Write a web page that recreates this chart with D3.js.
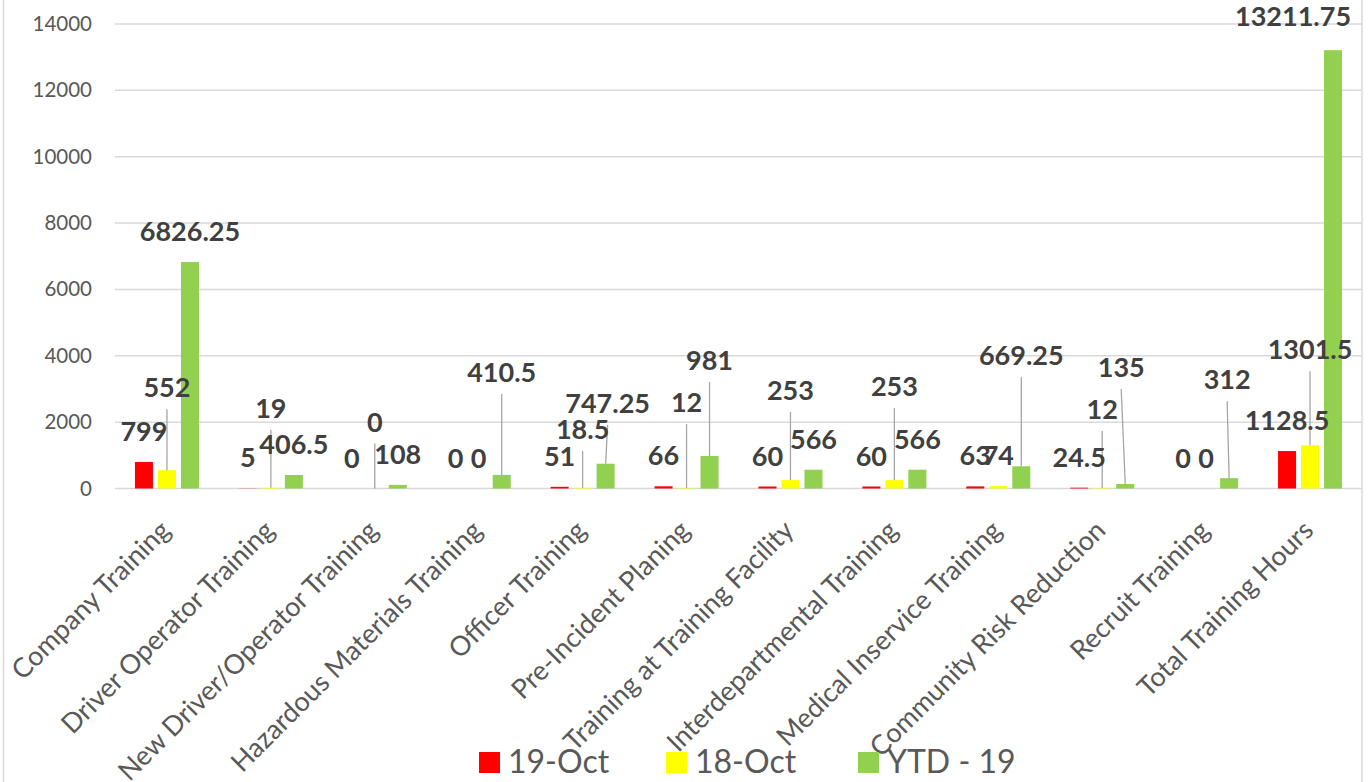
<!DOCTYPE html>
<html>
<head>
<meta charset="utf-8">
<script src="https://cdn.jsdelivr.net/npm/d3@7"></script>
<style>
  body { margin: 0; background: #fff; }
  svg { display: block; font-family: Lato, "Open Sans", sans-serif; }
</style>
</head>
<body>
<div id="chart"></div>
<script>
//wrap everything in a self-executing anonymous function
(function(){

  //chart data
  var categories = [
    "Company Training", "Driver Operator Training", "New Driver/Operator Training",
    "Hazardous Materials Training", "Officer Training", "Pre-Incident Planing",
    "Training at Training Facility", "Interdepartmental Training",
    "Medical Inservice Training", "Community Risk Reduction",
    "Recruit Training", "Total Training Hours"
  ];
  var seriesNames = ["19-Oct", "18-Oct", "YTD - 19"];
  var oct19 = [799, 5, 0, 0, 51, 66, 60, 60, 63, 24.5, 0, 1128.5];
  var oct18 = [552, 19, 0, 0, 18.5, 12, 253, 253, 74, 12, 0, 1301.5];
  var ytd19 = [6826.25, 406.5, 108, 410.5, 747.25, 981, 566, 566, 669.25, 135, 312, 13211.75];
  var yTicks = [0, 2000, 4000, 6000, 8000, 10000, 12000, 14000];

  var seriesValues = [oct19, oct18, ytd19];
  var seriesColors = ["#ff0000", "#ffff00", "#92d050"];

  //data labels that were dragged away from the bar end in the original (pixels)
  //one [dx, dy] per category, per series; anything moved gets a leader line
  var labelMoves = [
    [[0,0],[0,0],[0,0],[0,0],[0,0],[0,0],[0,0],[0,0],[0,0],[0,0],[0,0],[0,0]],
    [[0,-52],[0,-49],[0,-36],[0,0],[0,-28],[0,-55],[0,-59],[0,-63],[0,0],[0,-48],[0,0],[0,-65]],
    [[0,0],[0,0],[0,0],[0,-72],[2,-30],[0,-65],[0,0],[0,0],[0,-80],[-4,-86],[-2,-68],[-40,-3]]
  ];

  window.onload = setChart();

  function setChart(){
    var width = 1368,
        height = 782,
        plotLeft = 115,
        plotRight = 1362,
        plotTop = 24,
        plotBottom = 488.5;

    var svg = d3.select("#chart")
      .append("svg")
      .attr("width", width)
      .attr("height", height);

    //chart border
    svg.append("rect")
      .attr("x", 3.5)
      .attr("y", -4)
      .attr("width", plotRight - 3.5)
      .attr("height", height + 8)
      .attr("fill", "none")
      .attr("stroke", "#d9d9d9")
      .attr("stroke-width", 1.5);

    //scales
    var x0 = d3.scaleBand()
      .domain(categories)
      .range([plotLeft, plotRight])
      .paddingInner(0.384)
      .paddingOuter(0.192);

    var x1 = d3.scaleBand()
      .domain(seriesNames)
      .range([0, x0.bandwidth()])
      .paddingInner(5 / 23);

    var y = d3.scaleLinear()
      .domain([0, 14000])
      .range([plotBottom, plotTop]);

    //gridlines
    svg.append("g")
      .attr("class", "grid")
      .selectAll("line")
      .data(yTicks)
      .enter()
      .append("line")
      .attr("x1", plotLeft)
      .attr("x2", plotRight)
      .attr("y1", function(d){ return y(d); })
      .attr("y2", function(d){ return y(d); })
      .attr("stroke", "#d9d9d9")
      .attr("stroke-width", 1.5);

    //y axis labels, no line
    var yAxis = d3.axisLeft(y)
      .tickValues(yTicks)
      .tickSize(0)
      .tickPadding(0)
      .tickFormat(d3.format("d"));

    var yAxisG = svg.append("g")
      .attr("transform", "translate(92,0)")
      .call(yAxis);
    yAxisG.select(".domain").remove();
    yAxisG.selectAll("text")
      .attr("fill", "#595959")
      .style("font-size", "20.5px")
      .style("font-family", "Lato, sans-serif");

    //bars
    var groups = svg.selectAll(".series")
      .data(seriesNames)
      .enter()
      .append("g")
      .attr("class", "series")
      .attr("fill", function(d, i){ return seriesColors[i]; });

    groups.selectAll("rect")
      .data(function(d, i){
        return seriesValues[i].map(function(v, j){
          return {series: d, cat: categories[j], value: v};
        });
      })
      .enter()
      .append("rect")
      .attr("x", function(d){ return x0(d.cat) + x1(d.series); })
      .attr("width", x1.bandwidth())
      .attr("y", function(d){ return y(d.value); })
      .attr("height", function(d){ return plotBottom - y(d.value); });

    //data labels and leader lines
    var labelData = [];
    seriesNames.forEach(function(s, i){
      seriesValues[i].forEach(function(v, j){
        var bx = x0(categories[j]) + x1(s) + x1.bandwidth() / 2,
            by = y(v),
            mv = labelMoves[i][j];
        labelData.push({
          value: v, bx: bx, by: by,
          lx: bx + mv[0], ly: by - 21 + mv[1],
          moved: mv[1] < -10
        });
      });
    });

    svg.append("g")
      .selectAll("line")
      .data(labelData.filter(function(d){ return d.moved; }))
      .enter()
      .append("line")
      .attr("x1", function(d){ return d.lx; })
      .attr("y1", function(d){ return d.ly + 12; })
      .attr("x2", function(d){ return d.bx; })
      .attr("y2", function(d){ return d.by; })
      .attr("stroke", "#a6a6a6")
      .attr("stroke-width", 1.3);

    svg.append("g")
      .selectAll("text")
      .data(labelData)
      .enter()
      .append("text")
      .attr("x", function(d){ return d.lx; })
      .attr("y", function(d){ return d.ly; })
      .attr("text-anchor", "middle")
      .attr("fill", "#404040")
      .style("font-size", "27px")
      .style("font-weight", "bold")
      .text(function(d){ return d.value; });

    //category labels, rotated
    svg.append("g")
      .selectAll("text")
      .data(categories)
      .enter()
      .append("text")
      .attr("transform", function(d){
        return "translate(" + (x0(d) + x0.bandwidth() / 2 + 5) + "," + 532 + ") rotate(-45)";
      })
      .attr("text-anchor", "end")
      .attr("fill", "#595959")
      .style("font-size", "27px")
      .text(function(d){ return d; });

    //legend
    var legendX = [479, 666, 858];
    var legend = svg.append("g")
      .selectAll("g")
      .data(seriesNames)
      .enter()
      .append("g")
      .attr("transform", function(d, i){ return "translate(" + legendX[i] + ",752)"; });

    legend.append("rect")
      .attr("width", 21)
      .attr("height", 21)
      .attr("fill", function(d, i){ return seriesColors[i]; });

    legend.append("text")
      .attr("x", 29)
      .attr("y", 21)
      .attr("fill", "#595959")
      .style("font-size", "32px")
      .text(function(d){ return d; });
  }; //end of setChart

})();
</script>
</body>
</html>
